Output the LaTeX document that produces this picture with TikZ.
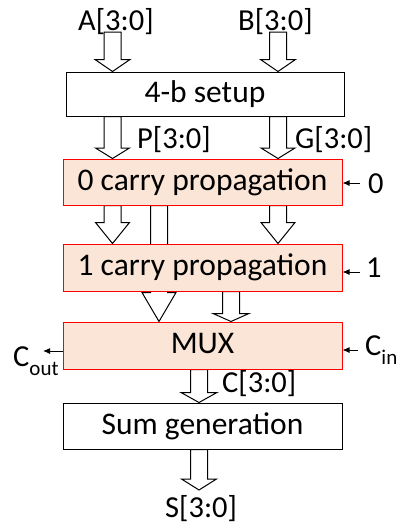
\documentclass[tikz,border=0pt]{standalone}
\usepackage{fontspec}
\setmainfont{Carlito}
\usetikzlibrary{arrows.meta,calc}
\pgfdeclarelayer{back}
\pgfsetlayers{back,main}
\definecolor{peach}{HTML}{FBE5D6}
\definecolor{redline}{HTML}{FF0000}
\tikzset{
  blk/.style={draw=black, line width=1pt, fill=white, minimum width=279pt,
    inner sep=0pt, text height=22pt, text depth=6pt,
    font=\fontsize{31.5}{36}\selectfont},
  stage/.style={blk, draw=redline, fill=peach},
  lbl/.style={inner sep=0pt, anchor=base west, font=\fontsize{30.5}{34}\selectfont},
  busline/.style={draw=black, line width=1pt, fill=white, line join=miter},
  sig/.style={draw=black, line width=1pt, -{Latex[length=7pt,width=6pt]}},
}
% hollow bus arrow: #1 start (top), #2 tip, #3 head length, #4 head half-width
\newcommand\busarrow[4]{%
  \path[busline] let \p1=#1, \p2=#2 in
    (\x1-8.5pt,\y1) -- (\x1-8.5pt,\y2+#3) -- (\x1-#4,\y2+#3) -- (\x1,\y2)
    -- (\x1+#4,\y2+#3) -- (\x1+8.5pt,\y2+#3) -- (\x1+8.5pt,\y1) -- cycle;}
\newcommand\subtxt[1]{\raisebox{-9pt}{\fontsize{21}{21}\selectfont #1}}
\begin{document}
\begin{tikzpicture}[x=1pt,y=-1pt]
\useasboundingbox (0,0) rectangle (399,525);

% blocks
\node[blk, minimum width=278pt, minimum height=44pt] (setup) at (205,94) {4-b setup};
\node[stage, minimum height=46pt] (zero) at (202.5,182) {0 carry propagation};
\node[stage, minimum height=47pt] (one) at (202.5,267.5) {1 carry propagation};
\node[stage, minimum height=47pt] (mux) at (202.5,345.5) {MUX};
\node[blk, minimum height=46pt] (sum) at (202.5,426) {Sum generation};

% bus labels
\node[lbl] (la) at (78,30) {A[3:0]};
\node[lbl] (lb) at (238,30) {B[3:0]};
\node[lbl] (lp) at (137,148) {P[3:0]};
\node[lbl] (lg) at (295,148) {G[3:0]};
\node[lbl] (lc) at (222,392) {C[3:0]};
\node[lbl] (ls) at (165,517) {S[3:0]};

% bus columns
\coordinate (pa) at (112.5,32);
\coordinate (pb) at (278,32);
\coordinate (xl) at (112.5,0);
\coordinate (xr) at (278,0);
\coordinate (xm) at (159,0);
\coordinate (xq) at (231,0);
\coordinate (xc) at (199,0);
\coordinate (send) at (199,490);

\begin{pgfonlayer}{back}
  \busarrow{(pa)}{(pa |- setup.north)}{12pt}{17.5pt}
  \busarrow{(pb)}{(pb |- setup.north)}{12pt}{17.5pt}
  \busarrow{(xl |- setup.south)}{(xl |- zero.north)}{10.5pt}{17pt}
  \busarrow{(xr |- setup.south)}{(xr |- zero.north)}{10.5pt}{17pt}
  \busarrow{(xl |- zero.south)}{(xl |- one.north)}{21pt}{17pt}
  \busarrow{(xr |- zero.south)}{(xr |- one.north)}{21pt}{17pt}
  \busarrow{(xm |- zero.south)}{(xm |- mux.north)}{29pt}{17pt}
  \busarrow{(xq |- one.south)}{(xq |- mux.north)}{8pt}{18pt}
  \busarrow{(xc |- mux.south)}{(xc |- sum.north)}{10pt}{18pt}
  \busarrow{(xc |- sum.south)}{(send)}{11pt}{17.5pt}
\end{pgfonlayer}

% carry-in selections
\coordinate (z0) at (360,183);
\draw[sig] (z0) -- (z0 -| zero.east);
\node[lbl] (l0) at (368,193) {0};
\coordinate (z1) at (360,272);
\draw[sig] (z1) -- (z1 -| one.east);
\node[lbl] (l1) at (366,277) {1};

% carry in / out
\coordinate (cin) at (358,350);
\draw[sig] (cin) -- (cin -| mux.east);
\node[lbl] (lcin) at (365,355) {C\subtxt{in}};
\coordinate (cout) at (43,351);
\draw[sig] (cout -| mux.west) -- (cout);
\node[lbl] (lcout) at (13,366) {C\subtxt{out}};
\end{tikzpicture}
\end{document}
